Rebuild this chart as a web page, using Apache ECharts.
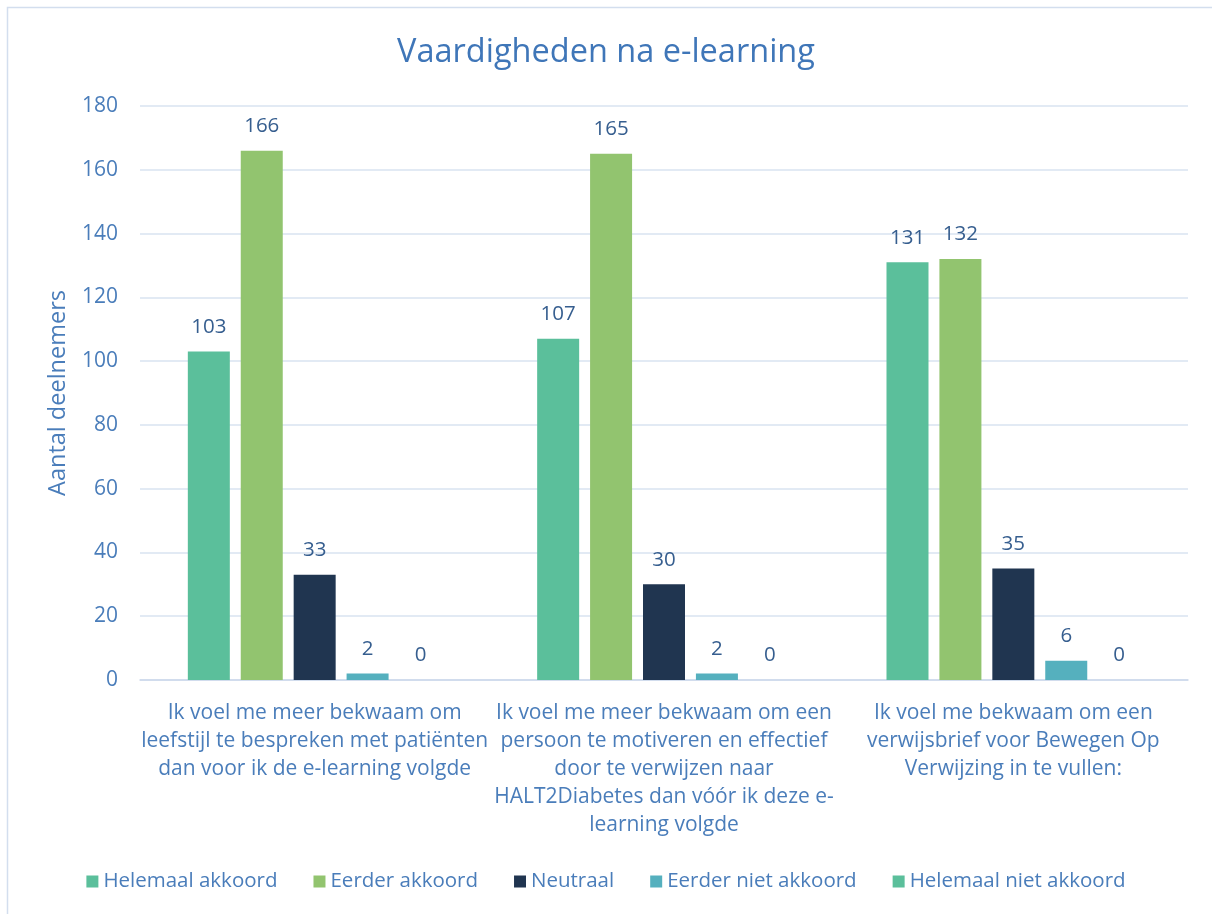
<!DOCTYPE html>
<html><head><meta charset="utf-8">
<script src="https://cdn.jsdelivr.net/npm/echarts@6/dist/echarts.min.js"></script>
<style>html,body{margin:0;padding:0;background:#fff}#c{width:1212px;height:914px}</style>
</head><body><div id="c"></div>
<script>
const titleText = 'Vaardigheden na e-learning';
const yAxisName = 'Aantal deelnemers';
const categories = [
  'Ik voel me meer bekwaam om\nleefstijl te bespreken met patiënten\ndan voor ik de e-learning volgde',
  'Ik voel me meer bekwaam om een\npersoon te motiveren en effectief\ndoor te verwijzen naar\nHALT2Diabetes dan vóór ik deze e-\nlearning volgde',
  'Ik voel me bekwaam om een\nverwijsbrief voor Bewegen Op\nVerwijzing in te vullen:'
];
const seriesNames = ['Helemaal akkoord','Eerder akkoord','Neutraal','Eerder niet akkoord','Helemaal niet akkoord'];
const helemaalAkkoord = [103,107,131];
const eerderAkkoord = [166,165,132];
const neutraal = [33,30,35];
const eerderNietAkkoord = [2,2,6];
const helemaalNietAkkoord = [0,0,0];
const yTicks = {min:0,max:180,interval:20};

const colors = ['#5BBF9B','#92C46F','#203550','#55B0BE','#5BBF9B'];
const values = [helemaalAkkoord,eerderAkkoord,neutraal,eerderNietAkkoord,helemaalNietAkkoord];
const FONT = 'Open Sans';
const axisColor = '#4A7DBA';
const labelColor = '#365E8F';

const chart = echarts.init(document.getElementById('c'), null, {renderer:'canvas'});
chart.setOption({
  animation:false,
  backgroundColor:'#fff',
  textStyle:{fontFamily:FONT},
  title:{text:titleText,left:'center',top:31,textStyle:{fontFamily:FONT,fontSize:32.5,fontWeight:'normal',color:'#3F76B8'}},
  graphic:[{type:'rect',shape:{x:7.5,y:7.5,width:1230,height:930},style:{fill:'none',stroke:'#D3DEEE',lineWidth:1.5},silent:true,z:-1}],
  legend:{bottom:17,left:'center',itemWidth:12,itemHeight:12,itemGap:36,icon:'rect',
    textStyle:{fontFamily:FONT,fontSize:20.5,color:axisColor},data:seriesNames},
  grid:{left:140,right:24,top:106,bottom:234,containLabel:false},
  xAxis:{type:'category',data:categories,
    axisLine:{lineStyle:{color:'#CCD8EA',width:1.5}},axisTick:{show:false},
    axisLabel:{fontFamily:FONT,fontSize:21,color:axisColor,lineHeight:28,margin:19,interval:0}},
  yAxis:{type:'value',min:yTicks.min,max:yTicks.max,interval:yTicks.interval,
    name:yAxisName,nameLocation:'middle',nameGap:70,nameRotate:90,
    nameTextStyle:{fontFamily:FONT,fontSize:23.5,color:axisColor},
    axisLine:{show:false},axisTick:{show:false},
    axisLabel:{fontFamily:FONT,fontSize:21,color:axisColor,margin:22},
    splitLine:{lineStyle:{color:'#D9E3F0',width:1.5}}},
  series:seriesNames.map((n,i)=>({name:n,type:'bar',data:values[i],barWidth:42,barGap:'26%',
    itemStyle:{color:colors[i]},
    label:{show:true,position:'top',distance:14,fontFamily:FONT,fontSize:20.5,color:labelColor}}))
});
</script></body></html>
